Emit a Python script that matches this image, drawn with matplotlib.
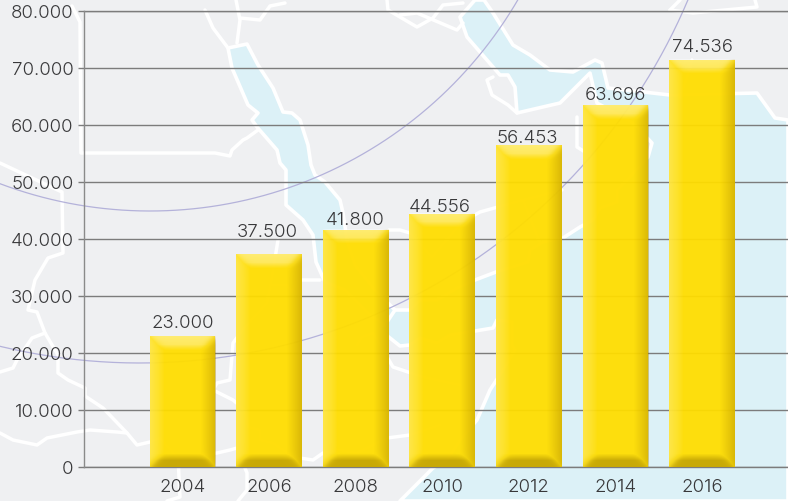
import numpy as np
import matplotlib
matplotlib.use('Agg')
import matplotlib.pyplot as plt
from matplotlib.patches import Polygon

# ---- data ----
years = ['2004', '2006', '2008', '2010', '2012', '2014', '2016']
bar_heights = [23000, 37400, 41700, 44500, 56500, 63500, 71500]
value_labels = ['23.000', '37.500', '41.800', '44.556', '56.453', '63.696', '74.536']
y_ticks = [0, 10000, 20000, 30000, 40000, 50000, 60000, 70000, 80000]
y_tick_labels = ['0', '10.000', '20.000', '30.000', '40.000', '50.000', '60.000', '70.000', '80.000']

W, H = 788, 501
plt.rcParams['font.family'] = ['Inter', 'DejaVu Sans']
TXT = '#38383a'
fig = plt.figure(figsize=(W / 100, H / 100), dpi=100, facecolor='#eff0f2')

# ---- decorative background map, in pixel space ----
bg = fig.add_axes([0, 0, 1, 1], zorder=0)
bg.set_xlim(0, W); bg.set_ylim(H, 0); bg.axis('off')
WATER = '#dcf1f7'
ocean = [(788,120),(775,118),(757,93),(670,95),(608,88),(602,63),(595,60),(573,72),(550,70),(530,55),
         (513,45),(493,13),(484,0),(475,0),(460,17),(467,37),(493,67),(500,75),(508,75),(515,87),(517,113),
         (560,103),(590,73),(597,103),(633,123),(652,143),(648,157),(627,180),(617,190),(617,202),(600,208),
         (593,220),(580,227),(563,238),(543,242),(530,250),(528,262),(496,272),(475,280),(457,288),(437,300),
         (420,300),(410,310),(389,310),(380,330),(400,346),(410,345),(420,338),(437,343),(450,335),(475,331),
         (493,328),(497,320),(512,322),(512,345),(515,350),(503,370),(490,390),(477,420),(460,440),(447,460),
         (433,468),(400,501),(788,501)]
red_sea = [(228,48),(232,68),(248,105),(258,113),(252,120),(257,127),(277,150),(280,163),(286,170),(286,205),
           (303,220),(313,235),(316,262),(325,282),(345,290),(370,315),(385,325),(395,310),(375,290),(355,265),
           (347,240),(343,213),(340,200),(325,182),(315,175),(311,165),(308,145),(300,120),(292,113),(283,112),
           (273,88),(258,65),(247,44)]
bg.add_patch(Polygon(ocean, closed=True, fc=WATER, ec='white', lw=2.6, joinstyle='round'))
bg.add_patch(Polygon(red_sea, closed=True, fc=WATER, ec='white', lw=2.6, joinstyle='round'))
border_lines = [
    [(205,10),(213,28),(228,48)],
    [(237,43),(240,20),(236,0)],
    [(240,18),(260,20),(270,6),(285,3)],
    [(72,6),(80,22),(81,153),(215,153),(230,156),(232,150),(243,140),(247,138),(258,130)],
    [(0,163),(62,192),(63,253),(48,258),(35,280),(28,310),(37,312),(45,333),(32,338),(17,360),(13,368),(0,372)],
    [(45,333),(58,355),(58,373),(68,380),(85,388),(85,396),(103,408),(127,433),(137,445),(150,442),(160,438),
     (177,457),(217,453),(230,450),(237,448),(247,473),(247,490),(238,501)],
    [(178,457),(180,497),(167,501)],
    [(0,433),(13,440),(37,445),(47,438),(77,432),(90,430),(117,432),(127,433)],
    [(278,240),(272,277),(267,303),(245,327),(233,343),(230,380),(217,383),(213,390),(233,400),(245,410),(248,427),
     (260,430),(260,440),(273,443),(293,457),(313,460),(323,453),(340,450),(357,453),(387,438),(410,435),(440,425)],
    [(272,285),(287,285),(292,292),(297,280),(320,280)],
    [(460,385),(423,377),(393,367),(373,333),(362,337),(357,345)],
    [(387,0),(388,10),(417,27),(433,18),(443,5),(463,3)],
    [(400,15),(417,13),(457,30),(463,23)],
    [(670,10),(693,13),(757,7),(755,0)],
    [(670,10),(680,0)],
    [(493,77),(487,80),(492,95),(508,105),(517,113)],
    [(389,230),(400,230),(410,233),(432,257),(462,222),(480,212),(523,200),(562,190)],
    [(523,200),(540,243)],
    [(577,117),(577,147),(585,152)],
    [(692,60),(687,78),(680,97)],
]
for seg in border_lines:
    a = np.array(seg)
    bg.plot(a[:, 0], a[:, 1], color='white', lw=2.5, solid_joinstyle='round', solid_capstyle='round')
for cx, cy, R in [(150, -215, 426), (140, -232, 595)]:
    t = np.linspace(0, np.pi, 600)
    bg.plot(cx + R * np.cos(t), cy + R * np.sin(t), color='#b4b2da', lw=0.9)
bg.set_xlim(0, W); bg.set_ylim(H, 0)

# ---- chart axes ----
y0_px, ytop_px = 467, 11.5
left_px = 84
ax = fig.add_axes([left_px / W, 1 - y0_px / H, (W - left_px) / W, (y0_px - ytop_px) / H], zorder=1)
ax.patch.set_alpha(0)
step = 86.6; c0 = 182.5
ax.set_xlim((left_px - c0) / step, (W - c0) / step)
ax.set_ylim(0, 80000)
x = np.arange(len(years))
bar_w = 0.76
ax.set_yticks(y_ticks, y_tick_labels)
ax.set_xticks(x, years)
ax.tick_params(axis='y', length=4.3, width=1, color='#7c7c7c', labelsize=13.4, labelcolor=TXT, pad=3.4)
ax.tick_params(axis='x', length=0, labelsize=13.4, labelcolor=TXT, pad=9)
for lab in ax.get_yticklabels() + ax.get_xticklabels():
    lab.set_fontweight(300)
ax.grid(axis='y', color='#7c7c7c', lw=1)
ax.set_axisbelow(True)
for s in ('top', 'right', 'bottom'):
    ax.spines[s].set_visible(False)
ax.spines['left'].set_color('#8a8a8a'); ax.spines['left'].set_linewidth(1)
ax.axhline(0, color='#7c7c7c', lw=1.0, zorder=1.5, clip_on=False)
ax.axhline(80000, color='#7c7c7c', lw=1.0, zorder=1.5, clip_on=False)

bars = ax.bar(x, bar_heights, width=bar_w, color='#ffdd00', alpha=0.95, zorder=3, lw=0)

px_per_val = (y0_px - ytop_px) / 80000

def bevel(w, h):
    """Soft RGBA overlay for a bar, row 0 at the top."""
    w, h = int(round(w)), int(round(h))
    yy, xx = np.mgrid[0:h, 0:w].astype(float)
    xr = w - 1 - xx
    yb = h - 1 - yy
    left = np.clip(1 - xx / 14.0, 0, 1) ** 0.8
    right = np.clip(1 - xr / 15.0, 0, 1) ** 1.1
    top = np.clip((14.0 - yy) / 6.0, 0, 1) * (0.65 + 0.35 * np.clip(1 - yy / 14.0, 0, 1))
    bot = np.clip((13.0 - yb) / 7.0, 0, 1)
    d = np.stack([xx, xr, yy, yb])
    weight = np.exp(-d / 2.5)
    weight /= weight.sum(axis=0)
    colors = np.array([(1, 1, 1), (0.66, 0.52, 0), (1, 1, 1), (0.58, 0.46, 0)])
    amps = np.stack([0.24 * left, 0.42 * right, 0.42 * top, 0.50 * bot])
    contrib = weight * amps
    total = contrib.sum(axis=0)
    img = np.zeros((h, w, 4))
    for c in range(3):
        img[..., c] = (contrib * colors[:, c, None, None]).sum(axis=0) / np.maximum(total, 1e-6)
    img[..., 3] = np.maximum(np.maximum(left * 0.24 * (weight[0] + weight[2] * 0.3),
                                        right * 0.42 * (weight[1] + weight[3] * 0.3)),
                             np.maximum(top * 0.42 * weight[2], bot * 0.50 * weight[3]))
    return img

for b, xc, hgt in zip(bars, x, bar_heights):
    w_px = bar_w * step
    h_px = hgt * px_per_val
    ax.imshow(bevel(w_px, h_px), extent=(xc - bar_w / 2, xc + bar_w / 2, 0, hgt), aspect='auto',
              zorder=3.5, interpolation='bilinear')
ax.set_xlim((left_px - c0) / step, (W - c0) / step)
ax.set_ylim(0, 80000)

# label offset from the bar top, in pixels, as placed in the source picture
lab_dx = [0, -2, -1, -2.5, -1.5, 0, 0]
lab_dy = [8, 17, 5, 2, 2, 5, 8]
for xc, hgt, s, dx, dy in zip(x, bar_heights, value_labels, lab_dx, lab_dy):
    ax.annotate(s, (xc, hgt), xytext=(dx * 0.72, dy * 0.72), textcoords='offset points', ha='center', va='baseline',
                fontsize=13.4, color=TXT, fontweight=300, zorder=5, annotation_clip=False)

fig.savefig('out.png', dpi=100, facecolor=fig.get_facecolor())
